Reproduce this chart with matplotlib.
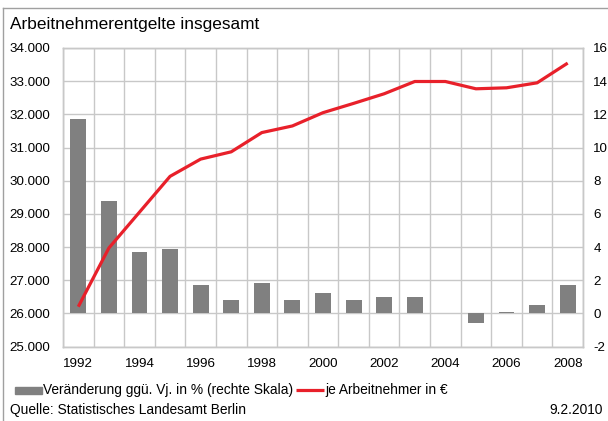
import matplotlib
matplotlib.use("Agg")
import matplotlib.pyplot as plt
from matplotlib.patches import Rectangle
from matplotlib.lines import Line2D
from matplotlib.ticker import FuncFormatter, MultipleLocator, FixedLocator

plt.rcParams['font.family'] = ['Liberation Sans', 'DejaVu Sans']
plt.rcParams['axes.unicode_minus'] = False

# Arbeitnehmerentgelte in Berlin
years = list(range(1992, 2009))
change_pct = [11.7, 6.8, 3.7, 3.9, 1.7, 0.8, 1.8, 0.8, 1.2, 0.8,
              1.0, 1.0, 0.0, -0.6, 0.1, 0.5, 1.7]
per_employee = [26200, 27970, 29050, 30130, 30650, 30870, 31450, 31650, 32050,
                32330, 32620, 32990, 32990, 32770, 32800, 32950, 33545]
year_labels = [str(y) if y % 2 == 0 else "" for y in years]

W, H = 608, 421
fig = plt.figure(figsize=(W / 100, H / 100), dpi=100)


def fx(px):
    return px / W


def fy(py):
    return 1 - py / H


left, right, top, bottom = 63, 583, 48, 346.5
ax = fig.add_axes([fx(left), fy(bottom), fx(right - left), fy(top) - fy(bottom)])
ax2 = ax.twinx()

grid_c = "#c8c8c8"
x = list(range(len(years)))

# bars: change vs. previous year, right-hand scale
ax.bar(x, change_pct, width=0.52, color="#808080", zorder=2)
ax.set_ylim(-2, 16)
ax.set_xlim(-0.5, len(years) - 0.5)
ax.yaxis.set_major_locator(MultipleLocator(2))
ax.yaxis.tick_right()
ax.xaxis.set_major_locator(FixedLocator(x))
ax.set_xticklabels(year_labels)
ax.xaxis.set_minor_locator(FixedLocator([i - 0.5 for i in range(len(years) + 1)]))
ax.grid(True, which="minor", axis="x", color=grid_c, lw=1, zorder=0)
ax.grid(True, which="major", axis="y", color=grid_c, lw=1, zorder=0)
ax.set_axisbelow(True)
ax.tick_params(axis="x", which="both", length=0, pad=8, labelsize=9.6)
ax.tick_params(axis="y", which="both", length=0, pad=7.5, labelsize=9.6,
               right=False, labelright=True, left=False, labelleft=False)

# line: per employee in euro, left-hand scale
ax2.plot(x, per_employee, color="#e8202a", lw=2.3, solid_capstyle="butt", zorder=3)
ax2.set_ylim(25000, 34000)
ax2.yaxis.set_major_locator(MultipleLocator(1000))
ax2.yaxis.set_major_formatter(FuncFormatter(lambda v, p: f"{int(v):,}".replace(",", ".")))
ax2.yaxis.tick_left()
ax2.tick_params(axis="y", length=0, pad=9, labelsize=9.6,
                left=False, labelleft=True, right=False, labelright=False)

for a in (ax, ax2):
    for s in a.spines.values():
        s.set_color(grid_c)
        s.set_linewidth(1)

# frame around the figure
fig.add_artist(Line2D([fx(3.3), 1.0], [fy(7.7), fy(7.7)], color="#a0a0a0", lw=1))
fig.add_artist(Line2D([fx(3.3), fx(3.3)], [fy(7.7), 0.0], color="#a0a0a0", lw=1))

fig.text(fx(9.5), fy(25), "Arbeitnehmerentgelte insgesamt", fontsize=12.4,
         ha="left", va="center")

# legend row
fig.add_artist(Rectangle((fx(15), fy(394)), fx(27), fy(387) - fy(394),
                         color="#808080", transform=fig.transFigure))
fig.text(fx(43.5), fy(390), "Veränderung ggü. Vj. in % (rechte Skala)",
         fontsize=9.9, ha="left", va="center")
fig.add_artist(Line2D([fx(296), fx(324)], [fy(390), fy(390)],
                      color="#e8202a", lw=2.3, solid_capstyle="butt"))
fig.text(fx(325), fy(390), "je Arbeitnehmer in €", fontsize=9.9,
         ha="left", va="center")

fig.text(fx(10), fy(410), "Quelle: Statistisches Landesamt Berlin",
         fontsize=9.9, ha="left", va="center")
fig.text(fx(603), fy(410), "9.2.2010", fontsize=9.9, ha="right", va="center")

fig.savefig("out.png", dpi=100)
